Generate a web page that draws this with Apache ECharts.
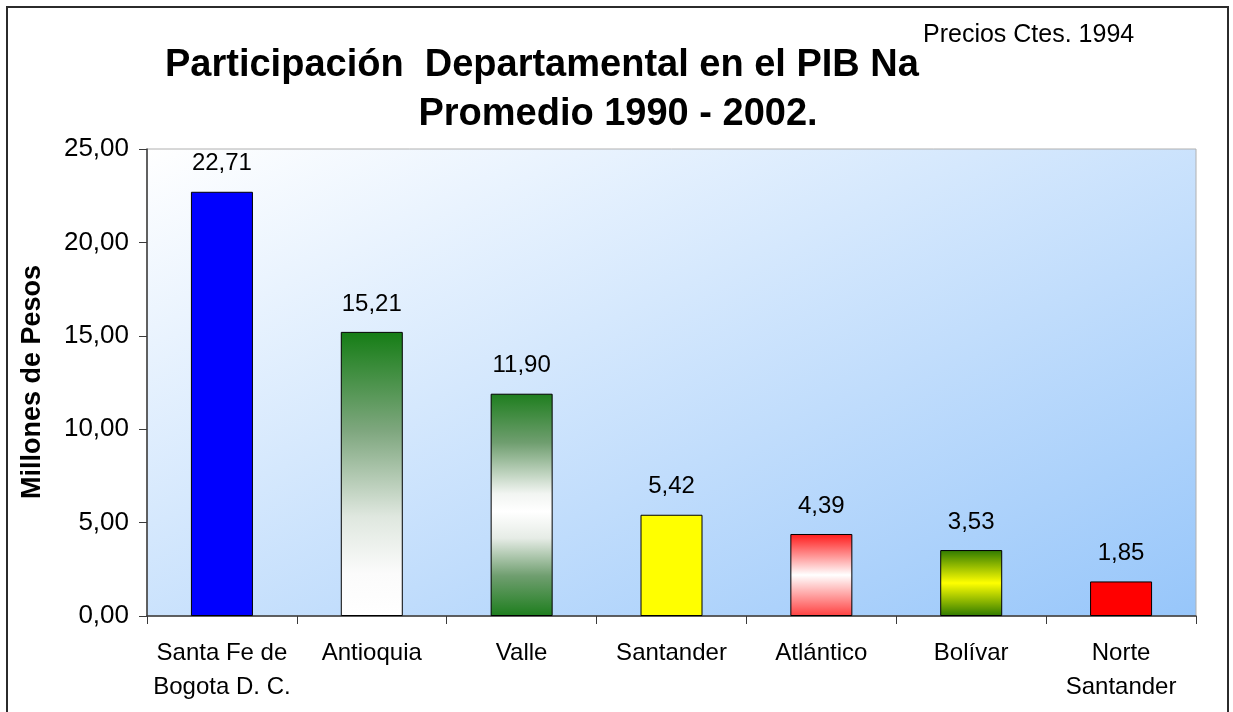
<!DOCTYPE html>
<html><head><meta charset="utf-8">
<script src="https://cdn.jsdelivr.net/npm/echarts@6/dist/echarts.min.js"></script>
<style>html,body{margin:0;padding:0;background:#fff}#c{width:1233px;height:712px}</style>
</head><body><div id="c"></div>
<script>
// ---- data ----
const categories = ['Santa Fe de\nBogota D. C.', 'Antioquia', 'Valle', 'Santander', 'Atlántico', 'Bolívar', 'Norte\nSantander'];
const values = [22.71, 15.21, 11.90, 5.42, 4.39, 3.53, 1.85];
const yMin = 0, yMax = 25, yStep = 5;
const titleLine1 = 'Participación  Departamental en el PIB Na';
const titleLine2 = 'Promedio 1990 - 2002.';
const noteText = 'Precios Ctes. 1994';
const yAxisTitle = 'Millones de Pesos';

// ---- styles ----
const G = echarts.graphic.LinearGradient;
function vg(stops){ return new G(0,0,0,1, stops.map(s=>({offset:s[0], color:s[1]}))); }
const fills = [
  '#0000ff',
  vg([[0,'#157d15'],[0.35,'#7fa77f'],[0.65,'#dfe7df'],[0.85,'#fbfbfb'],[1,'#ffffff']]),
  vg([[0,'#1e7e1e'],[0.22,'#6f9e6f'],[0.45,'#f2f5f2'],[0.53,'#ffffff'],[0.65,'#e6ece6'],[0.82,'#6f9e6f'],[1,'#1e7e1e']]),
  '#ffff00',
  vg([[0,'#ff1a1a'],[0.5,'#ffffff'],[1,'#ff4040']]),
  vg([[0,'#2f7a00'],[0.5,'#ffff00'],[1,'#2f7a00']]),
  '#ff0000'
];
const FONT = '"Liberation Sans", Arial, sans-serif';
const fmt = v => Number(v).toFixed(2).replace('.', ',');

// plot area in pixels (used for the diagonal background fill)
const GL = 147, GR = 37, GT = 149, GB = 96, W = 1233, H = 712;
const pw = W - GL - GR, ph = H - GT - GB;
const k = 2 * pw * ph / (pw * pw + ph * ph);
const bgFill = new G(GL, GT, GL + ph * k, GT + pw * k,
  [{offset:0,color:'#ffffff'},{offset:1,color:'#97c6fa'}], true);

const chart = echarts.init(document.getElementById('c'), null, {renderer:'canvas'});
chart.setOption({
  animation: false,
  backgroundColor: '#ffffff',
  textStyle: {fontFamily: FONT},
  grid: {
    left: GL, right: GR, top: GT, bottom: GB,
    show: true,
    backgroundColor: bgFill,
    borderColor: '#b0b0b0', borderWidth: 1
  },
  xAxis: {
    type: 'category',
    data: categories,
    axisLine: {lineStyle: {color: '#3a3a3a', width: 1.5}},
    axisTick: {show: true, length: 8, lineStyle: {color: '#3a3a3a'}},
    axisLabel: {interval: 0, fontSize: 24, color: '#000', margin: 20, lineHeight: 34, fontFamily: FONT},
    splitLine: {show: false}
  },
  yAxis: {
    type: 'value',
    min: yMin, max: yMax, interval: yStep,
    axisLine: {show: true, lineStyle: {color: '#3a3a3a', width: 1.5}},
    axisTick: {show: true, length: 8, lineStyle: {color: '#3a3a3a'}},
    axisLabel: {fontSize: 26, color: '#000', margin: 18, formatter: fmt, fontFamily: FONT},
    splitLine: {show: false}
  },
  series: [{
    type: 'bar',
    barWidth: 62,
    data: values.map((v,i)=>({value: v, itemStyle: {color: fills[i]}})),
    itemStyle: {borderColor: '#000', borderWidth: 1},
    label: {show: true, position: 'top', distance: 16, fontSize: 24, color: '#000', formatter: p => fmt(p.value), fontFamily: FONT}
  }],
  graphic: [
    {type:'rect', z: 0, silent:true, shape:{x:7, y:7, width:1221, height:730}, style:{fill:'none', stroke:'#2b2b2b', lineWidth:2}},
    {type:'text', z: 10, x:165, y:66, style:{text:titleLine1, font:'bold 38px ' + FONT, fill:'#000', align:'left', verticalAlign:'middle'}},
    {type:'text', z: 10, x:618, y:115, style:{text:titleLine2, font:'bold 38px ' + FONT, fill:'#000', align:'center', verticalAlign:'middle'}},
    {type:'rect', z: 11, shape:{x:920, y:18, width:250, height:75}, style:{fill:'#ffffff'}},
    {type:'text', z: 12, x:923, y:35, style:{text:noteText, font:'25px ' + FONT, fill:'#000', align:'left', verticalAlign:'middle'}},
    {type:'text', z: 10, x:33, y:382, rotation: Math.PI/2, style:{text:yAxisTitle, font:'bold 27px ' + FONT, fill:'#000', align:'center', verticalAlign:'middle'}}
  ]
});
</script>
</body></html>
